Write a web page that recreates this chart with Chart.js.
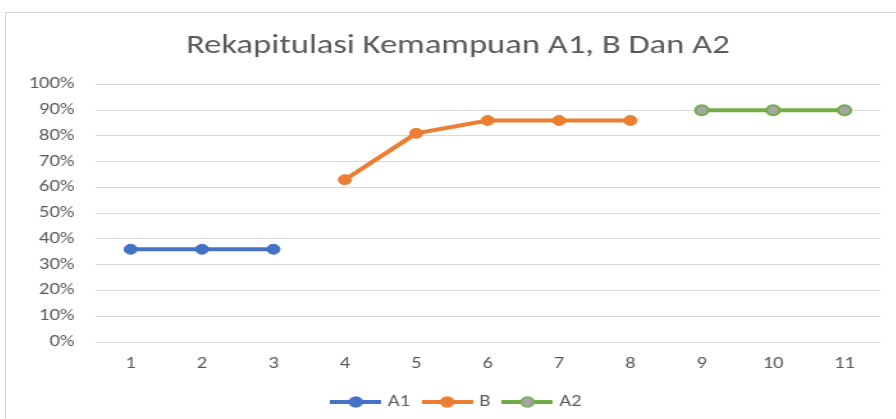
<!DOCTYPE html>
<html>
<head>
<meta charset="utf-8">
<script src="https://cdn.jsdelivr.net/npm/chart.js@4"></script>
<style>
  html, body { margin: 0; padding: 0; background: #fff; overflow: hidden; }
  .frame {
    position: absolute; left: 5px; top: 12px; width: 1000px; height: 500px;
    border: 1px solid #d9d9d9; box-sizing: border-box;
  }
  /* the source picture is stretched sideways, so the canvas is too */
  #myChart { position: absolute; left: 0; top: 1px; transform: scaleX(1.28); transform-origin: 0 0; }
</style>
</head>
<body>
<div class="frame">
  <canvas id="myChart" width="706" height="420"></canvas>
</div>
<script>
const categories = ['1', '2', '3', '4', '5', '6', '7', '8', '9', '10', '11'];
const a1Values = [36, 36, 36, null, null, null, null, null, null, null, null];
const bValues = [null, null, null, 63, 81, 86, 86, 86, null, null, null];
const a2Values = [null, null, null, null, null, null, null, null, 90, 90, 90];
const yTicks = [0, 10, 20, 30, 40, 50, 60, 70, 80, 90, 100];

const FONT = 'Carlito, Lato, sans-serif';
const TEXT = '#595959';

// legend icon: line with a marker in the middle, like Excel
function legendIcon(line, fill, border) {
  const c = document.createElement('canvas');
  c.width = 40;
  c.height = 12;
  const g = c.getContext('2d');
  g.strokeStyle = line;
  g.lineWidth = 4;
  g.beginPath();
  g.moveTo(0, 6);
  g.lineTo(40, 6);
  g.stroke();
  g.beginPath();
  g.arc(20, 6, 5, 0, Math.PI * 2);
  g.fillStyle = fill;
  g.fill();
  g.lineWidth = 1.5;
  g.strokeStyle = border;
  g.stroke();
  return c;
}
const icons = [
  legendIcon('#4472C4', '#4472C4', '#4472C4'),
  legendIcon('#ED7D31', '#ED7D31', '#ED7D31'),
  legendIcon('#70AD47', '#A5A5A5', '#70AD47'),
];

const ctx = document.getElementById('myChart');
new Chart(ctx, {
  type: 'line',
  data: {
    labels: categories,
    datasets: [
      {
        label: 'A1',
        data: a1Values,
        borderColor: '#4472C4',
        backgroundColor: '#4472C4',
        pointBackgroundColor: '#4472C4',
        pointBorderColor: '#4472C4',
      },
      {
        label: 'B',
        data: bValues,
        borderColor: '#ED7D31',
        backgroundColor: '#ED7D31',
        pointBackgroundColor: '#ED7D31',
        pointBorderColor: '#ED7D31',
      },
      {
        label: 'A2',
        data: a2Values,
        borderColor: '#70AD47',
        backgroundColor: '#A5A5A5',
        pointBackgroundColor: '#A5A5A5',
        pointBorderColor: '#70AD47',
        pointBorderWidth: 2,
      },
    ],
  },
  options: {
    responsive: false,
    animation: false,
    devicePixelRatio: 1,
    layout: { padding: { left: 0, right: 0, top: 0, bottom: 14 } },
    elements: {
      line: { borderWidth: 4, tension: 0 },
      point: { radius: 5, hoverRadius: 5, borderWidth: 1 },
    },
    scales: {
      x: {
        offset: true,
        grid: { display: false, drawTicks: false },
        border: { display: false },
        ticks: { color: TEXT, font: { family: FONT, size: 16 }, padding: 12 },
        afterFit: (s) => { s.height = 40; },
      },
      y: {
        min: 0,
        max: 100,
        afterBuildTicks: (s) => { s.ticks = yTicks.map((v) => ({ value: v })); },
        grid: { color: '#d9d9d9', lineWidth: 1, drawTicks: false },
        border: { display: false },
        ticks: {
          color: TEXT,
          font: { family: FONT, size: 16 },
          padding: 16,
          callback: (v) => v + '%',
        },
        afterFit: (s) => { s.width = 69.5; },
      },
      // empty right margin, so the legend and title stay centred on the whole box
      yRight: {
        position: 'right',
        grid: { display: false, drawTicks: false },
        border: { display: false },
        ticks: { display: false },
        afterFit: (s) => { s.width = 23; },
      },
    },
    plugins: {
      title: {
        display: true,
        text: 'Rekapitulasi Kemampuan A1, B Dan A2',
        color: TEXT,
        font: { family: FONT, size: 27, weight: 'normal' },
        padding: { top: 16, bottom: 22 },
      },
      legend: {
        position: 'bottom',
        labels: {
          color: TEXT,
          font: { family: FONT, size: 16 },
          usePointStyle: true,
          pointStyleWidth: 34,
          padding: 12,
          generateLabels: (chart) =>
            Chart.defaults.plugins.legend.labels.generateLabels(chart).map((item, i) => {
              item.pointStyle = icons[i];
              return item;
            }),
        },
      },
      tooltip: { enabled: false },
    },
  },
});
</script>
</body>
</html>
